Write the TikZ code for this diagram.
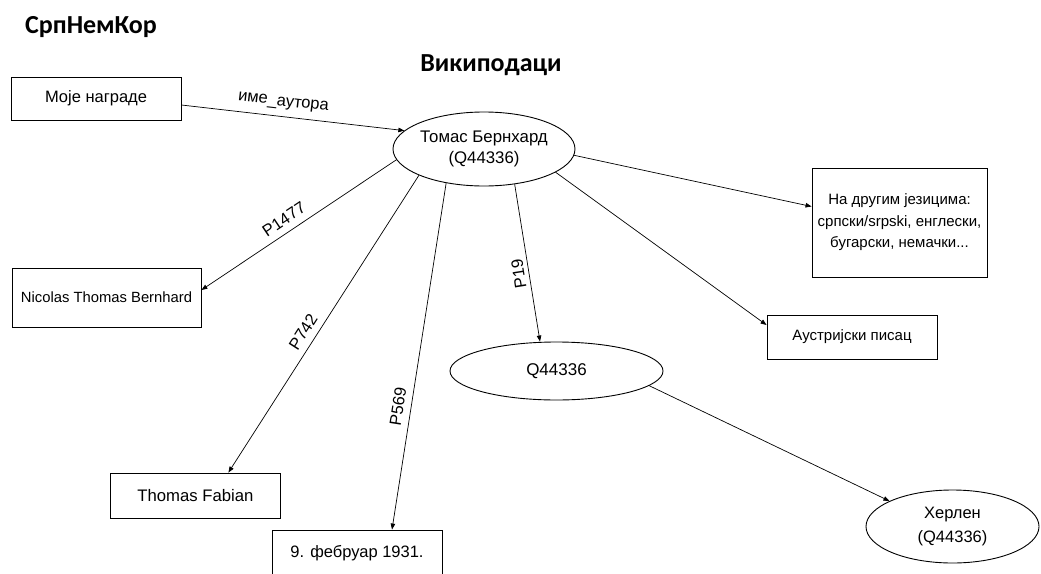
\documentclass[tikz,border=0pt]{standalone}
\usepackage{fontspec}
\setmainfont{Liberation Sans}
\newfontfamily\titlefont{Carlito}
\usetikzlibrary{arrows.meta,shapes.geometric}
\begin{document}
\begin{tikzpicture}[x=1pt,y=-1pt,
  fs/.style={font=\fontsize{#1}{21}\selectfont},
  box/.style={draw, line width=0.9pt, inner sep=0pt, align=center},
  ell/.style={draw, ellipse, line width=0.9pt, inner sep=0pt, align=center},
  conn/.style={draw, line width=0.7pt, -{Triangle[length=6pt,width=4.5pt]}},
  lbl/.style={fs=16.5, inner sep=3pt},
  ttl/.style={font=\titlefont\bfseries\fontsize{26}{30}\selectfont, inner sep=0pt, anchor=base}]
\useasboundingbox (0,0) rectangle (1041,573);

\node[ttl] (title) at (91,33) {СрпНемКор};
\node[ttl] (wiki) at (491,71) {Википодаци};

\node[box, fs=16.5, minimum width=170pt, minimum height=43pt] (moje) at (96,98.5) {Моје награде};
\node[ell, fs=16.8, minimum width=182pt, minimum height=74pt] (tomas) at (484,149) {Томас Бернхард\\(Q44336)};
\node[box, minimum width=175pt, minimum height=109pt, font=\fontsize{15}{21.5}\selectfont] (lang) at (899.5,222.5) {На другим језицима:\\српски/srpski, енглески,\\бугарски, немачки...};
\node[box, fs=14.8, minimum width=189pt, minimum height=59pt] (nic) at (106.5,297.5) {Nicolas Thomas Bernhard};
\node[box, fs=15, minimum width=170pt, minimum height=44pt] (aus) at (852,337) {Аустријски писац};
\node[ell, fs=17, minimum width=213pt, minimum height=58pt] (q) at (556.5,371) {Q44336};
\node[box, fs=16.7, minimum width=170pt, minimum height=45pt] (fab) at (195.4,495.5) {Thomas Fabian};
\node[box, fs=16.5, minimum width=170pt, minimum height=46pt] (feb) at (357,553) {9. фебруар 1931.};
\node[ell, font=\fontsize{16.5}{24}\selectfont, minimum width=173pt, minimum height=73pt] (herlen) at (952.5,526.5) {Херлен\\(Q44336)};

\draw[conn] ([yshift=-6.5pt]moje.east) -- node[lbl, pos=0.45, sloped, above=4pt] {име\_аутора} (tomas.167.5);
\draw[conn] (tomas.187) -- node[lbl, pos=0.54, sloped, above=4pt] {P1477} ([yshift=7.5pt]nic.east);
\draw[conn] (tomas.202) -- node[lbl, pos=0.55, sloped, above=4pt] {P742} ([xshift=33pt]fab.north);
\draw[conn] (tomas.222) -- node[lbl, pos=0.65, sloped, above=4pt] {P569} ([xshift=35pt]feb.north);
\draw[conn] (tomas.311.5) -- node[lbl, pos=0.56, rotate=99, anchor=south, inner sep=4pt] {P19} ([xshift=-16.5pt]q.north);
\draw[conn] (tomas.356) -- ([yshift=16pt]lang.west);
\draw[conn] (tomas.342) -- ([yshift=12pt]aus.west);
\draw[conn] (q.351.6) -- (herlen.158.7);
\end{tikzpicture}
\end{document}
